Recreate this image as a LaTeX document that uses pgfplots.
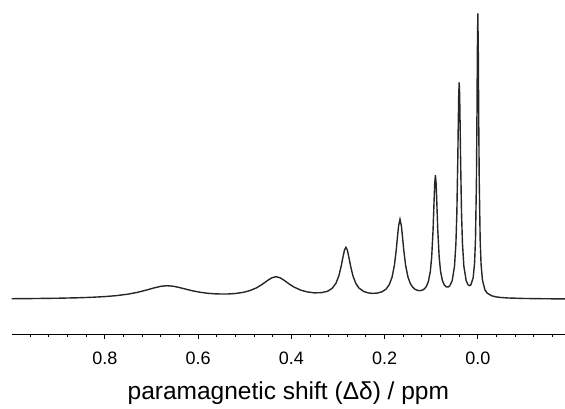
\documentclass[border=0pt]{standalone}
\usepackage{pgfplots}
\pgfplotsset{compat=1.18}
\usepackage{fontspec}
\setmainfont{Liberation Sans}
\begin{document}
\begin{tikzpicture}
\useasboundingbox (0,0) rectangle (282.5pt,204pt);
\begin{axis}[
  at={(5.85pt,37pt)}, anchor=south west,
  scale only axis,
  width=276.65pt, height=167pt,
  x dir=reverse,
  xmin=-0.187, xmax=1.0,
  ymin=-34.7, ymax=299.3,
  axis x line*=bottom,
  axis y line=none,
  ytick=\empty,
  xtick={0,0.2,0.4,0.6,0.8},
  minor xtick={-0.16,-0.12,-0.08,-0.04,0.04,0.08,0.12,0.16,0.24,0.28,0.32,0.36,0.44,0.48,0.52,0.56,0.64,0.68,0.72,0.76,0.84,0.88,0.92,0.96},
  tick align=outside,
  major tick length=2.5pt,
  minor tick length=1.5pt,
  every tick/.style={black, line width=0.5pt},
  axis line style={line width=0.5pt},
  xticklabel style={font=\fontsize{9}{10}\selectfont, yshift=-3pt,
    /pgf/number format/.cd, fixed, fixed zerofill, precision=1, assume math mode=true},
  xlabel={paramagnetic shift (Δδ) / ppm},
  xlabel style={font=\fontsize{12.25}{14}\selectfont, at={(axis description cs:0.5,0)}, anchor=base, yshift=-32.5pt},
]
% summed spectrum, intensity in arbitrary units above baseline
\addplot[black!85, line width=0.7pt] coordinates {
  (-0.187,0.42) (-0.15,0.53) (-0.1,0.82) (-0.065,1.32) (-0.05,1.79) (-0.04,2.35)
  (-0.03,3.44) (-0.02,6.18) (-0.015,9.68) (-0.01,18.96) (-0.007,34.5) (-0.005,59.2)
  (-0.003,118.8) (-0.002,175.5) (-0.0015,210.9) (-0.001,246.8) (0,286)
  (0.001,247.2) (0.0015,211.3) (0.002,176.1) (0.003,119.5) (0.005,60.4) (0.007,36.3)
  (0.01,21.64) (0.015,14.36) (0.018,13.64) (0.021,14.54) (0.025,18.6)
  (0.03,33.2) (0.033,56.1) (0.035,86.8) (0.037,140) (0.038,174.3) (0.039,204.4)
  (0.04,217) (0.041,204.4) (0.042,174.3) (0.043,140.1) (0.045,86.85) (0.047,56.2)
  (0.05,33.3) (0.055,18.63) (0.06,13.58) (0.064,12.27) (0.068,12.5) (0.072,14.35)
  (0.076,18.69) (0.08,28.1) (0.083,42.6) (0.086,69.9) (0.088,97) (0.0895,115.7)
  (0.091,124.1) (0.0925,115.6) (0.094,96.9) (0.096,69.7) (0.099,42.2) (0.102,27.6)
  (0.106,17.99) (0.11,13.23) (0.114,10.7) (0.118,9.39) (0.122,8.79) (0.126,8.68)
  (0.13,9.04) (0.135,10.15) (0.14,12.26) (0.145,15.94) (0.15,22.42) (0.155,34.17)
  (0.159,49.64) (0.162,64.36) (0.164,73.46) (0.167,80) (0.17,73.43) (0.172,64.31)
  (0.175,49.55) (0.179,34.0) (0.184,22.18) (0.19,14.63) (0.197,10.18) (0.205,7.66)
  (0.215,6.27) (0.225,5.92) (0.235,6.38) (0.245,7.86) (0.255,11.24) (0.262,16.1)
  (0.268,23.54) (0.273,33.3) (0.277,42.9) (0.28,49.3) (0.283,52) (0.286,49.36)
  (0.289,43.0) (0.293,33.47) (0.298,23.75) (0.304,16.39) (0.312,11.18) (0.322,8.14)
  (0.335,6.66) (0.35,6.46) (0.365,7.28) (0.38,9.15) (0.395,12.39) (0.405,15.42)
  (0.415,18.85) (0.424,21.49) (0.433,22.6) (0.442,21.51) (0.452,18.55) (0.462,15.13)
  (0.475,11.41) (0.49,8.53) (0.505,6.8) (0.52,5.82) (0.535,5.36) (0.55,5.28)
  (0.565,5.51) (0.58,6.07) (0.595,7.0) (0.61,8.29) (0.625,9.96) (0.64,11.77)
  (0.653,13.04) (0.667,13.6) (0.68,12.99) (0.695,11.36) (0.71,9.36) (0.73,6.98)
  (0.75,5.19) (0.775,3.69) (0.8,2.72) (0.83,1.98) (0.86,1.5) (0.9,1.09)
  (0.95,0.78) (1.0,0.59)
};
\end{axis}
\end{tikzpicture}
\end{document}
